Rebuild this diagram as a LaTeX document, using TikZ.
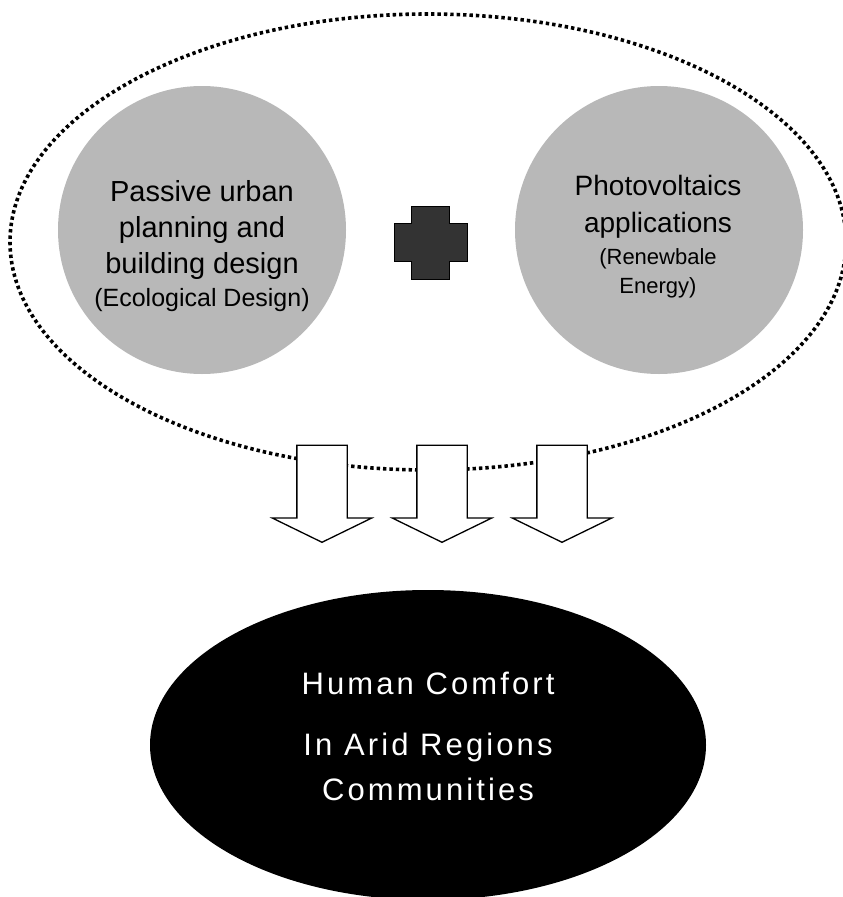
\documentclass[tikz,border=0pt]{standalone}
\usepackage{fontspec}
\setmainfont{Liberation Sans}
\newfontfamily\widefont[LetterSpace=10]{Liberation Sans}
\usepackage{xcolor}
\usepackage{tikz}
\usetikzlibrary{positioning,shapes.geometric,shapes.arrows}
\definecolor{discgray}{RGB}{184,184,184}
\definecolor{plusgray}{RGB}{51,51,51}

\begin{document}
\begin{tikzpicture}[x=1pt,y=-1pt]
  \tikzstyle{disc} = [circle, fill=discgray, minimum size=288pt, inner sep=0pt]
  \tikzstyle{disctext} = [align=center, inner sep=0pt]
  \tikzstyle{downarrow} = [single arrow, draw, fill=white, line width=1.3pt,
    rotate=-90, minimum height=97pt, inner sep=24.5pt,
    single arrow head extend=24.5pt, single arrow tip angle=128, anchor=tip]

  \useasboundingbox (0,0) rectangle (843,897);

  \node[ellipse, draw, line width=3.6pt, dash pattern=on 3.4pt off 3pt,
    minimum width=836pt, minimum height=456pt, inner sep=0pt] (scope) at (428,242) {};

  \node[disc] (passive) at (202,230) {};
  \node[disc] (pv) at (659,230) {};
  \node[disctext, font=\fontsize{29}{36}\selectfont] (passivetxt) at (202,246.5)
    {Passive urban\\planning and\\building design\\[-3pt]
     \fontsize{25}{30}\selectfont (Ecological Design)};
  \node[disctext, font=\fontsize{28}{37}\selectfont] (pvtxt) at (658,236.3)
    {Photovoltaics\\applications\\[-5pt]
     \fontsize{22}{29}\selectfont (Renewbale\\[-8pt]
     \fontsize{22}{29}\selectfont Energy)};

  \draw[fill=plusgray, line width=1pt] (411,206) -- (449,206) -- (449,223)
    -- (467,223) -- (467,261) -- (449,261) -- (449,279) -- (411,279)
    -- (411,261) -- (394,261) -- (394,223) -- (411,223) -- cycle;

  \foreach \x/\name in {322/left, 442/mid, 562/right}
    \node[downarrow] (arrow\name) at (\x,543) {};

  \node[ellipse, fill=black, minimum width=556pt, minimum height=310pt] (comfort) at (428,745) {};
  \node[align=center, text=white, inner sep=0pt,
    font=\widefont\fontsize{31}{45}\selectfont] (comforttxt) at (428,736)
    {Human Comfort\\[16pt]In Arid Regions\\Communities};
\end{tikzpicture}
\end{document}
